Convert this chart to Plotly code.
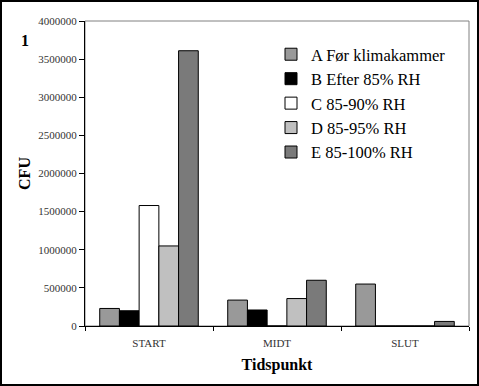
import plotly.graph_objects as go

categories = ["START", "MIDT", "SLUT"]
series_names = ["A Før klimakammer", "B Efter 85% RH", "C 85-90% RH", "D 85-95% RH", "E 85-100% RH"]
values_A = [230000, 340000, 550000]
values_B = [200000, 210000, 0]
values_C = [1580000, 0, 0]
values_D = [1050000, 360000, 0]
values_E = [3610000, 600000, 60000]
colors = ["#999999", "#000000", "#ffffff", "#c0c0c0", "#7a7a7a"]
y_ticks = [0, 500000, 1000000, 1500000, 2000000, 2500000, 3000000, 3500000, 4000000]

W, H = 479, 386
ML, MR, MT, MB = 85, 10, 21, 60
PW, PH = W - ML - MR, H - MT - MB

def px_x(x):
    return (x - ML) / PW

def px_y(y):
    return (H - MB - y) / PH

serif = "Liberation Serif, Times New Roman, serif"

fig = go.Figure()
for name, vals, col in zip(series_names, [values_A, values_B, values_C, values_D, values_E], colors):
    fig.add_trace(go.Bar(x=categories, y=vals, name=name,
                         marker=dict(color=col, line=dict(color="#000000", width=1))))

fig.update_layout(
    width=W, height=H,
    margin=dict(l=ML, r=MR, t=MT, b=MB),
    paper_bgcolor="white", plot_bgcolor="white",
    barmode="group", bargap=0.23, bargroupgap=0,
    font=dict(family=serif, color="#000000"),
    showlegend=True,
    legend=dict(x=px_x(271), y=px_y(37), xanchor="left", yanchor="top",
                font=dict(family=serif, size=16.5, color="#000000"),
                bgcolor="rgba(0,0,0,0)", tracegroupgap=0, itemwidth=30),
    xaxis=dict(showline=True, linecolor="#000000", linewidth=1,
               ticks="outside", tickson="boundaries", ticklen=4, tickcolor="#000000",
               ticklabelstandoff=7,
               tickfont=dict(family=serif, size=11, color="#333333"),
               title=dict(text="<b>Tidspunkt</b>", font=dict(family=serif, size=16), standoff=10)),
    yaxis=dict(range=[0, 4000000], tickvals=y_ticks, tickformat="d",
               showline=True, linecolor="#000000", linewidth=1,
               ticks="outside", ticklen=5, tickcolor="#000000",
               showgrid=False, zeroline=False,
               tickfont=dict(family=serif, size=11, color="#333333"),
               title=dict(text="<b>CFU</b>", font=dict(family=serif, size=16), standoff=3)),
    shapes=[
        dict(type="rect", xref="paper", yref="paper", x0=0, x1=1, y0=0, y1=1,
             line=dict(color="#808080", width=1), layer="below"),
        dict(type="rect", xref="paper", yref="paper",
             x0=px_x(1), x1=px_x(W - 1), y0=px_y(H - 1), y1=px_y(1),
             line=dict(color="#000000", width=2), layer="below"),
    ],
    annotations=[
        dict(text="<b>1</b>", xref="paper", yref="paper", x=px_x(25), y=px_y(41),
             xanchor="center", yanchor="middle",
             showarrow=False, font=dict(family=serif, size=16, color="#000000"))
    ],
)

fig.write_html("out.html", config={"displayModeBar": False},
               post_script="document.body.style.margin='0';document.body.style.overflow='hidden';")
